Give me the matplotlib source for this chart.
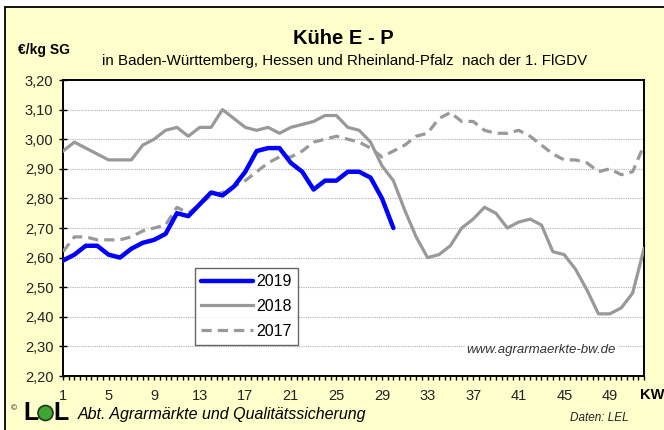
import matplotlib
matplotlib.use("Agg")
import matplotlib.pyplot as plt
from matplotlib.patches import Rectangle, Ellipse
from matplotlib.ticker import MultipleLocator, FixedLocator, FuncFormatter

plt.rcParams['font.family'] = ['Liberation Sans', 'DejaVu Sans']

weeks_2019 = list(range(1, 31))
v2019 = [2.59, 2.61, 2.64, 2.64, 2.61, 2.60, 2.63, 2.65, 2.66, 2.68,
         2.75, 2.74, 2.78, 2.82, 2.81, 2.84, 2.89, 2.96, 2.97, 2.97,
         2.92, 2.89, 2.83, 2.86, 2.86, 2.89, 2.89, 2.87, 2.80, 2.70]

weeks_full = list(range(1, 53))
v2018 = [2.96, 2.99, 2.97, 2.95, 2.93, 2.93, 2.93, 2.98, 3.00, 3.03,
         3.04, 3.01, 3.04, 3.04, 3.10, 3.07, 3.04, 3.03, 3.04, 3.02,
         3.04, 3.05, 3.06, 3.08, 3.08, 3.04, 3.03, 2.99, 2.91, 2.86,
         2.76, 2.67, 2.60, 2.61, 2.64, 2.70, 2.73, 2.77, 2.75, 2.70,
         2.72, 2.73, 2.71, 2.62, 2.61, 2.56, 2.49, 2.41, 2.41, 2.43,
         2.48, 2.63]
v2017 = [2.62, 2.67, 2.67, 2.66, 2.66, 2.66, 2.67, 2.69, 2.70, 2.71,
         2.77, 2.75, 2.78, 2.81, 2.82, 2.84, 2.86, 2.89, 2.92, 2.94,
         2.94, 2.96, 2.99, 3.00, 3.01, 3.00, 2.99, 2.97, 2.94, 2.96,
         2.98, 3.01, 3.02, 3.07, 3.09, 3.06, 3.06, 3.03, 3.02, 3.02,
         3.03, 3.01, 2.98, 2.95, 2.93, 2.93, 2.92, 2.89, 2.90, 2.88,
         2.89, 2.98]

x_ticks = list(range(1, 53, 4))
y_ticks = [2.2 + 0.1 * i for i in range(11)]

W, H = 664, 430
fig = plt.figure(figsize=(W / 100, H / 100), dpi=100)
fig.patch.set_facecolor('white')

def fx(x):
    return x / W

def fy(y):
    return 1 - y / H

bg = Rectangle((fx(4.5), -0.05), 1.2, fy(7) + 0.05, transform=fig.transFigure,
               facecolor='#FFFFCC', edgecolor='black', linewidth=1.3, zorder=-5)
fig.patches.append(bg)

ax = fig.add_axes([fx(63), fy(376), fx(644) - fx(63), fy(80) - fy(376)])
ax.set_zorder(1)
ax.set_facecolor('white')
for s in ax.spines.values():
    s.set_color('black')
    s.set_linewidth(1.4)

ax.set_xlim(1, 52)
ax.set_ylim(2.2, 3.2)

for yv in y_ticks[1:-1]:
    ax.axhline(yv, color='#b0b0b0', linewidth=0.8, linestyle=(0, (1, 1)), zorder=1)

gray = '#999999'
ax.plot(weeks_full, v2017, color=gray, linewidth=2.3, linestyle=(0, (3.2, 1.9)),
        label='2017', zorder=3, solid_joinstyle='round')
ax.plot(weeks_full, v2018, color=gray, linewidth=2.3, label='2018', zorder=3)
ax.plot(weeks_2019, v2019, color='#0000FF', linewidth=3.2, label='2019', zorder=4,
        solid_capstyle='round', solid_joinstyle='round')

ax.xaxis.set_major_locator(FixedLocator(x_ticks))
ax.xaxis.set_minor_locator(MultipleLocator(0.5))
ax.yaxis.set_major_locator(FixedLocator(y_ticks))
ax.yaxis.set_major_formatter(FuncFormatter(lambda v, p: f"{v:.2f}".replace('.', ',')))
ax.tick_params(axis='x', which='both', direction='out', length=3, width=1,
               labelsize=10.5, pad=6, colors='black')
ax.tick_params(axis='y', which='major', direction='inout', length=6, width=1,
               labelsize=10.5, pad=4, colors='black')
for lbl in ax.get_xticklabels() + ax.get_yticklabels():
    lbl.set_color('#222222')

handles, labels = ax.get_legend_handles_labels()
order = [2, 1, 0]
leg = ax.legend([handles[i] for i in order], [labels[i] for i in order],
                loc='upper left', bbox_to_anchor=(fx(195), fy(268)),
                bbox_transform=fig.transFigure, frameon=True, fancybox=False,
                edgecolor='#404040', fontsize=11.5, handlelength=3.2,
                handletextpad=0.25, borderpad=0.4, labelspacing=0.6,
                borderaxespad=0)
leg.get_frame().set_linewidth(1.0)
leg.set_zorder(6)

ax.text(43, 2.288, 'www.agrarmaerkte-bw.de', fontsize=9.5, style='italic',
        color='#333333', ha='center', va='center', zorder=5,
        bbox=dict(facecolor='white', edgecolor='none', pad=1))

fig.text(fx(343), fy(38), 'Kühe E - P', fontsize=14.5, fontweight='bold',
         ha='center', va='center')
fig.text(fx(345), fy(61), 'in Baden-Württemberg, Hessen und Rheinland-Pfalz  nach der 1. FlGDV',
         fontsize=10.9, ha='center', va='center')
fig.text(fx(18), fy(50), '€/kg SG', fontsize=10, fontweight='bold',
         ha='left', va='center')
fig.text(fx(652), fy(395), 'KW', fontsize=10.5, fontweight='bold',
         ha='center', va='center')

fig.text(fx(11), fy(409), '©', fontsize=6, ha='left', va='center')
fig.text(fx(23), fy(413), 'L', fontsize=18, fontweight='bold', ha='left', va='center')
fig.patches.append(Ellipse((fx(45.5), fy(413)), 15 / W, 15 / H, transform=fig.transFigure,
                           facecolor='#3fa535', edgecolor='#1a3a1a', linewidth=1.2, zorder=3))
fig.text(fx(53), fy(413), 'L', fontsize=18, fontweight='bold', ha='left', va='center')
fig.text(fx(78), fy(415), 'Abt. Agrarmärkte und Qualitätssicherung', fontsize=11.5,
         style='italic', ha='left', va='center')
fig.text(fx(570), fy(418), 'Daten: LEL', fontsize=8.5, style='italic',
         ha='left', va='center', color='#222222')

fig.savefig('out.png', dpi=100, facecolor=fig.get_facecolor())
